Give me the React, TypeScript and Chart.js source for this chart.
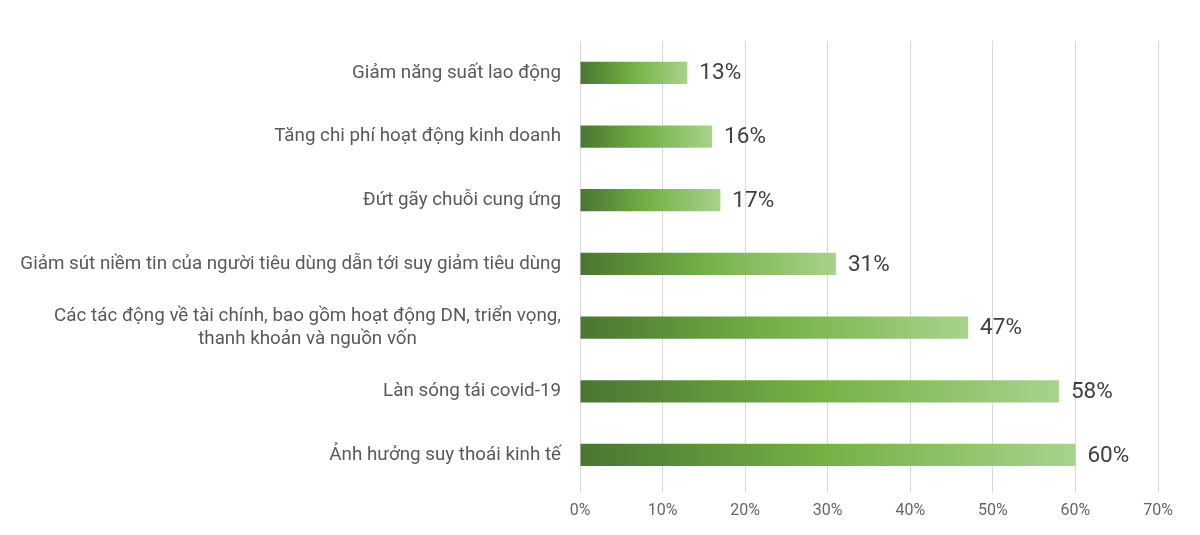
import React, { useEffect, useRef } from "react";
import { Chart, registerables } from "chart.js";

Chart.register(...registerables);

const categories: (string | string[])[] = [
  "Giảm năng suất lao động",
  "Tăng chi phí hoạt động kinh doanh",
  "Đứt gãy chuỗi cung ứng",
  "Giảm sút niềm tin của người tiêu dùng dẫn tới suy giảm tiêu dùng",
  ["Các tác động về tài chính, bao gồm hoạt động DN, triển vọng,", "thanh khoản và nguồn vốn"],
  "Làn sóng tái covid-19",
  "Ảnh hưởng suy thoái kinh tế",
];
const values = [13, 16, 17, 31, 47, 58, 60];
const xMin = 0;
const xMax = 70;
const xStep = 10;

const FONT = "Roboto, 'Noto Sans', sans-serif";

const labelsPlugin = {
  id: "customLabels",
  afterDatasetsDraw(chart: any) {
    const ctx = chart.ctx;
    const yScale = chart.scales.y;
    const area = chart.chartArea;
    ctx.save();
    // category labels
    ctx.font = `18.8px ${FONT}`;
    ctx.fillStyle = "#595959";
    ctx.textBaseline = "middle";
    const right = area.left - 19;
    const lh = 23;
    categories.forEach((lab, i) => {
      const y = yScale.getPixelForTick(i);
      const lines = Array.isArray(lab) ? lab : [lab];
      const widths = lines.map((l) => ctx.measureText(l).width);
      const maxW = Math.max(...widths);
      const cx = right - maxW / 2;
      const y0 = y - ((lines.length - 1) * lh) / 2;
      lines.forEach((l, j) => {
        if (lines.length === 1) {
          ctx.textAlign = "right";
          ctx.fillText(l, right, y0 + j * lh);
        } else {
          ctx.textAlign = "center";
          ctx.fillText(l, cx, y0 + j * lh);
        }
      });
    });
    // value labels
    const meta = chart.getDatasetMeta(0);
    ctx.font = `22.5px ${FONT}`;
    ctx.fillStyle = "#404040";
    ctx.textAlign = "left";
    meta.data.forEach((el: any, i: number) => {
      ctx.fillText(values[i] + "%", el.x + 12, el.y + 1);
    });
    ctx.restore();
  },
};

export default function App() {
  const ref = useRef<HTMLCanvasElement | null>(null);
  useEffect(() => {
    document.body.style.margin = "0";
    const canvas = ref.current;
    if (!canvas) return;
    const chart = new Chart(canvas, {
      type: "bar",
      data: {
        labels: categories as any,
        datasets: [
          {
            data: values,
            backgroundColor: (c: any) => {
              const ch = c.chart;
              if (!ch.chartArea || c.type !== "data") return "#72ad47";
              const xs = ch.scales.x;
              const x0 = xs.getPixelForValue(0);
              const x1 = xs.getPixelForValue(c.raw);
              const g = ch.ctx.createLinearGradient(x0, 0, x1, 0);
              g.addColorStop(0, "#4a7533");
              g.addColorStop(0.5, "#74b246");
              g.addColorStop(1, "#a9d28e");
              return g;
            },
            borderWidth: 0,
            barPercentage: 0.35,
            categoryPercentage: 1,
          },
        ],
      },
      options: {
        indexAxis: "y",
        animation: false,
        responsive: true,
        maintainAspectRatio: false,
        layout: { padding: { top: 41, right: 42, bottom: 5, left: 0 } },
        plugins: { legend: { display: false }, tooltip: { enabled: false } },
        scales: {
          x: {
            min: xMin,
            max: xMax,
            grid: { color: "#d9d9d9", lineWidth: 1, tickLength: 6, drawTicks: true },
            border: { display: false },
            ticks: {
              stepSize: xStep,
              padding: 9,
              color: "#666666",
              font: { family: FONT, size: 16 },
              callback: (v: any) => v + "%",
            },
          },
          y: {
            grid: { display: false },
            border: { display: false },
            ticks: { display: false },
            afterFit: (scale: any) => {
              scale.width = 580;
            },
          },
        },
      },
      plugins: [labelsPlugin],
    });
    return () => chart.destroy();
  }, []);
  return (
    <div style={{ position: "absolute", left: 0, top: 0, width: 1200, height: 535 }}>
      <canvas ref={ref} />
    </div>
  );
}
